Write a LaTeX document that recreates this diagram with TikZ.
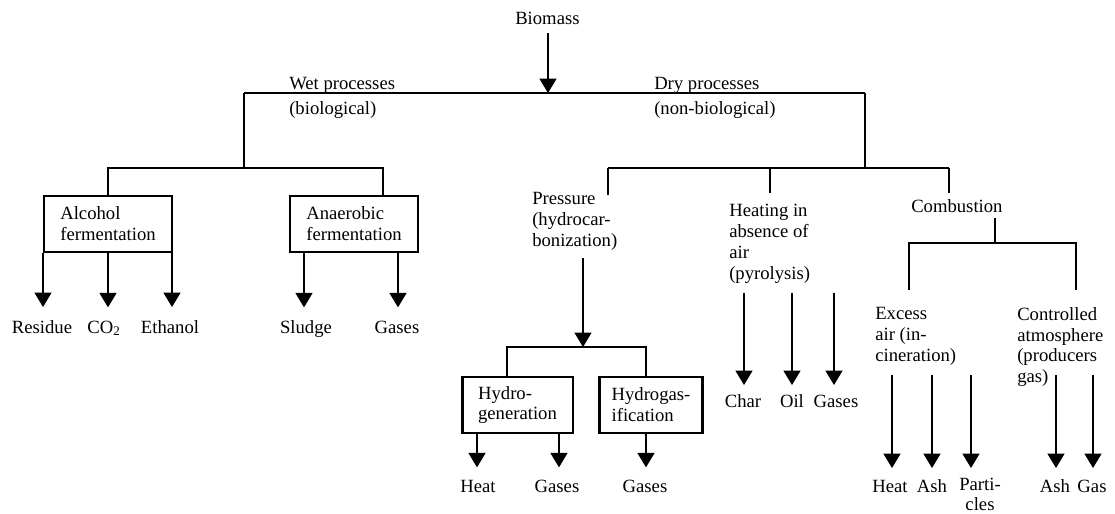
\documentclass[tikz,border=0pt]{standalone}
\usepackage{fontspec}
\setmainfont{Liberation Serif}
\usetikzlibrary{arrows.meta}
\begin{document}
\begin{tikzpicture}[x=0.75pt,y=-0.75pt,
  every node/.style={font=\fontsize{14}{15.6}\selectfont, inner sep=0pt},
  lbl/.style={anchor=north west, align=left},
  outl/.style={anchor=base},
  proc/.style={draw, line width=2pt, minimum height=42pt, align=left},
  ln/.style={line width=0.9pt},
  arr/.style={line width=0.9pt, -{Triangle[width=12.8pt,length=10.8pt]}},
]
\useasboundingbox (0,0) rectangle (1115,514);

% ---------- texts ----------
\node[lbl] (bio) at (515,12) {Biomass};
\node[lbl] (wet) at (289,77) {Wet processes};
\node[lbl] (wetb) at (289,101) {(biological)};
\node[lbl] (dry) at (654,77) {Dry processes};
\node[lbl] (dryb) at (654,101) {(non-biological)};

\node[proc, minimum width=96pt] (alc) at (108,224) {Alcohol\\fermentation};
\node[proc, minimum width=96pt] (ana) at (354,224) {Anaerobic\\fermentation};

\node[lbl] (press) at (532,192) {Pressure\\(hydrocar-\\bonization)};
\node[lbl] (heat) at (729,204) {Heating in\\absence of\\air\\(pyrolysis)};
\node[lbl] (comb) at (911,199) {Combustion};
\node[lbl] (exc) at (875,307) {Excess\\air (in-\\cineration)};
\node[lbl] (ctrl) at (1017,307) {Controlled\\atmosphere\\(producers\\gas)};

\node[proc, minimum width=83pt] (hgen) at (517.5,405) {Hydro-\\generation};
\node[proc, minimum width=77pt] (hgas) at (651,405) {Hydrogas-\\ification};

% outputs
\node[outl] (o1) at (42,333) {Residue};
\node[outl] (o2) at (104,333) {CO\textsubscript{2}};
\node[outl] (o3) at (170,333) {Ethanol};
\node[outl] (o4) at (306,333) {Sludge};
\node[outl] (o5) at (397,333) {Gases};
\node[outl] (o6) at (478,492) {Heat};
\node[outl] (o7) at (557,492) {Gases};
\node[outl] (o8) at (645,492) {Gases};
\node[outl] (o9) at (743,407) {Char};
\node[outl] (o10) at (792,407) {Oil};
\node[outl] (o11) at (836,407) {Gases};
\node[outl] (o12) at (890,492) {Heat};
\node[outl] (o13) at (932,492) {Ash};
\node[anchor=north, align=center, font=\fontsize{14}{14.6}\selectfont] (o14) at (980,478) {Parti-\\cles};
\node[outl] (o15) at (1055,492) {Ash};
\node[outl] (o16) at (1092,492) {Gas};

% ---------- coordinates ----------
\coordinate (j0) at (548,93);
\coordinate (wetL) at (244,93);
\coordinate (dryR) at (865,93);
\coordinate (wetJ) at (244,168);
\coordinate (wA) at (107,168);
\coordinate (wB) at (383,168);
\coordinate (dryJ) at (865,168);
\coordinate (dA) at (608,168);
\coordinate (dB) at (770,168);
\coordinate (dC) at (949,168);
\coordinate (dAe) at (608,195);
\coordinate (dBe) at (770,193);
\coordinate (dCe) at (949,193);
\coordinate (pS) at (583,258);
\coordinate (pT) at (583,347);
\coordinate (hA) at (507,347);
\coordinate (hB) at (646,347);
\coordinate (cS) at (995,218);
\coordinate (cJ) at (995,243);
\coordinate (cA) at (909,243);
\coordinate (cB) at (1076,243);
\coordinate (cAe) at (909,290);
\coordinate (cBe) at (1076,290);

% ---------- connectors ----------
\draw[arr] (bio.south -| j0) ++(0,8) -- (j0);
\draw[ln] (wetL) -- (dryR);
\draw[ln] (wetL) -- (wetJ);
\draw[ln] (alc.north) -- (alc.north |- wA) -- (wB) -- (wB |- ana.north);
\draw[ln] (dryR) -- (dryJ);
\draw[ln] (dA) -- (dC);
\draw[ln] (dA) -- (dAe);
\draw[ln] (dB) -- (dBe);
\draw[ln] (dC) -- (dCe);

% alcohol
\coordinate (a1) at (43,253);
\coordinate (a3) at (172,253);
\draw[arr] (a1) -- ++(0,54);
\draw[arr] (alc.south) -- ++(0,54);
\draw[arr] (a3) -- ++(0,54);
% anaerobic
\draw[arr] (ana.south -| o4) ++(-2,0) -- ++(0,54);
\draw[arr] (ana.south -| o5) ++(1,0) -- ++(0,54);

% pressure
\draw[arr] (pS) -- (pT);
\draw[ln] (hgen.north -| hA) -- (hA) -- (hB) -- (hgas.north -| hB);
\draw[arr] (hgen.south -| o6) ++(-1,0) -- ++(0,33);
\draw[arr] (hgen.south -| o7) ++(2,0) -- ++(0,33);
\draw[arr] (hgas.south -| o8) ++(1,0) -- ++(0,33);

% pyrolysis
\coordinate (py1) at (744,293);
\coordinate (py2) at (792,293);
\coordinate (py3) at (834,293);
\draw[arr] (py1) -- ++(0,92);
\draw[arr] (py2) -- ++(0,92);
\draw[arr] (py3) -- ++(0,92);

% combustion
\draw[ln] (cS) -- (cJ);
\draw[ln] (cAe) -- (cA) -- (cB) -- (cBe);
\coordinate (e1) at (892,375);
\coordinate (e2) at (932,375);
\coordinate (e3) at (971,375);
\coordinate (e4) at (1056,375);
\coordinate (e5) at (1093,375);
\draw[arr] (e1) -- ++(0,93);
\draw[arr] (e2) -- ++(0,93);
\draw[arr] (e3) -- ++(0,93);
\draw[arr] (e4) -- ++(0,93);
\draw[arr] (e5) -- ++(0,93);
\end{tikzpicture}
\end{document}
